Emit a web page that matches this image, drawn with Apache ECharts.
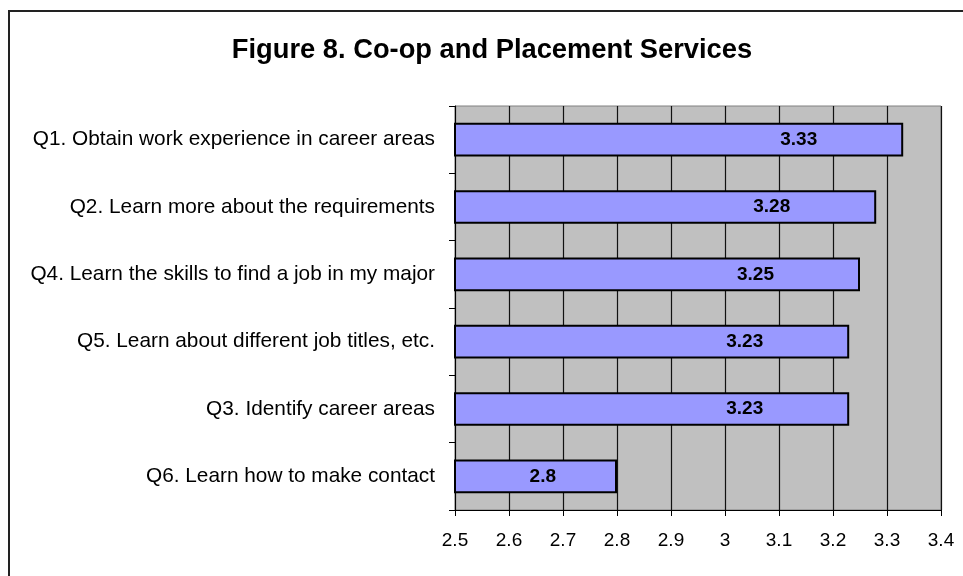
<!DOCTYPE html>
<html>
<head>
<meta charset="utf-8">
<title>Figure 8. Co-op and Placement Services</title>
<script src="https://cdn.jsdelivr.net/npm/echarts@6/dist/echarts.min.js"></script>
<style>
  html, body { margin: 0; padding: 0; background: #ffffff; }
  #chart { width: 963px; height: 576px; }
</style>
</head>
<body>
<div id="chart"></div>
<script>
// Survey items, listed top to bottom
const categories = [
  'Q1. Obtain work experience in career areas',
  'Q2. Learn more about the requirements',
  'Q4. Learn the skills to find a job in my major',
  'Q5. Learn about different job titles, etc.',
  'Q3. Identify career areas',
  'Q6. Learn how to make contact'
];
// Mean rating per item
const meanScores = [3.33, 3.28, 3.25, 3.23, 3.23, 2.8];
// Value axis range and step
const axisMin = 2.5;
const axisMax = 3.4;
const axisStep = 0.1;

const FONT = '"Liberation Sans", Arial, sans-serif';

const chart = echarts.init(document.getElementById('chart'), null, { renderer: 'canvas' });

const barData = meanScores.map((v, i) => {
  const item = { value: v };
  // the short bar keeps its label nearer the bar's middle
  if (v < 3) item.label = { distance: 61 };
  return item;
});

chart.setOption({
  backgroundColor: '#ffffff',
  animation: false,
  title: {
    text: 'Figure 8. Co-op and Placement Services',
    left: 487,
    textAlign: 'center',
    top: 32,
    textStyle: { fontFamily: FONT, fontSize: 27.3, fontWeight: 'bold', color: '#000' }
  },
  graphic: [{
    type: 'rect',
    shape: { x: 9, y: 11, width: 1000, height: 700 },
    style: { fill: 'none', stroke: '#222', lineWidth: 2 },
    silent: true,
    z: 100
  }],
  grid: {
    left: 455, top: 106, right: 22, bottom: 66,
    show: true,
    backgroundColor: '#C0C0C0',
    borderColor: '#808080',
    borderWidth: 1
  },
  xAxis: {
    type: 'value',
    min: axisMin,
    max: axisMax,
    interval: axisStep,
    axisLine: { show: true, lineStyle: { color: '#000', width: 1 } },
    axisTick: { show: true, length: 6, lineStyle: { color: '#000' } },
    splitLine: { show: true, lineStyle: { color: '#111', width: 1.2 } },
    axisLabel: {
      margin: 21,
      fontFamily: FONT, fontSize: 19, color: '#000',
      formatter: v => String(+v.toFixed(1))
    }
  },
  yAxis: {
    type: 'category',
    inverse: true,
    data: categories,
    axisLine: { show: true, lineStyle: { color: '#000', width: 1 } },
    axisTick: { show: true, length: 6, lineStyle: { color: '#000' } },
    axisLabel: { margin: 20, fontFamily: FONT, fontSize: 20.8, color: '#000' }
  },
  series: [{
    type: 'bar',
    data: barData,
    barWidth: '50%',
    itemStyle: { color: '#9999FF', borderColor: '#000', borderWidth: 2 },
    label: {
      show: true,
      position: 'insideRight',
      distance: 86,
      fontFamily: FONT, fontSize: 19, fontWeight: 'bold', color: '#000',
      formatter: p => String(p.value)
    }
  }]
});
</script>
</body>
</html>
